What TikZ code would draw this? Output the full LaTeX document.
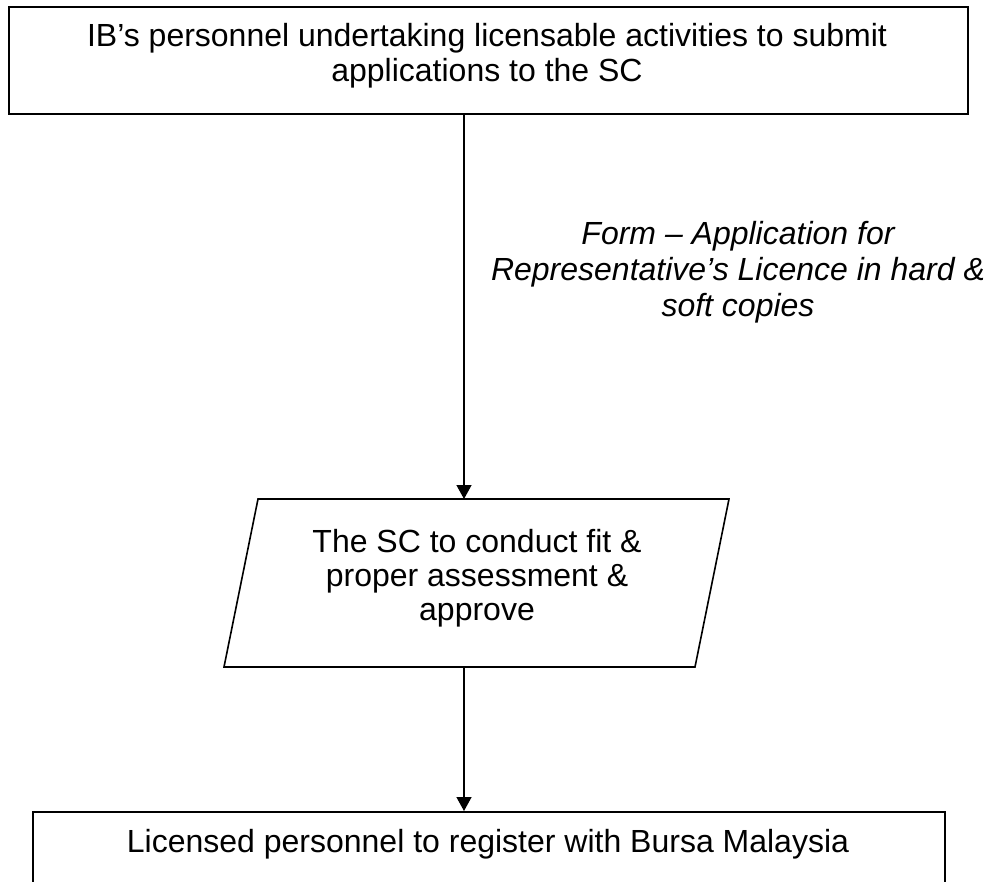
\documentclass[tikz,border=0pt]{standalone}
\usepackage{fontspec}
\setmainfont{Liberation Sans}
\usetikzlibrary{arrows.meta}
\begin{document}
\begin{tikzpicture}[x=1pt,y=-1pt,
  box/.style={draw, line width=1.6pt, inner sep=0pt},
  txt/.style={font=\fontsize{32}{35}\selectfont, align=center, inner sep=0pt},
  arr/.style={-{Triangle[length=14pt,width=15pt]}, line width=1.4pt}]
\useasboundingbox (0,0) rectangle (996,882);
% top box
\node[box, minimum width=959pt, minimum height=107pt, anchor=north west] (top) at (8,6) {};
\node[txt, anchor=base] (toptxt) at (487,82) {IB’s personnel undertaking licensable activities to submit\\applications to the SC};
% parallelogram
\coordinate (p1) at (258,499);
\coordinate (p2) at (729,499);
\coordinate (p3) at (695,667);
\coordinate (p4) at (224,667);
\draw[line width=1.6pt] (p1) -- (p2) -- (p3) -- (p4) -- cycle;
\node[txt, font=\fontsize{32}{34}\selectfont, anchor=base] (para) at (477,620) {The SC to conduct fit \&\\proper assessment \&\\approve};
\coordinate (pin) at (464,499);
\coordinate (pout) at (464,667);
% label
\node[txt, font=\fontsize{32}{36}\selectfont\itshape, anchor=base] (lbl) at (738,317) {Form – Application for\\Representative’s Licence in hard \&\\soft copies};
% bottom box
\node[box, minimum width=912pt, minimum height=120pt, anchor=north west] (bot) at (32,811) {};
\node[txt, anchor=base] (bottxt) at (488,852) {Licensed personnel to register with Bursa Malaysia};
% connectors
\draw[arr] (top.south -| pin) -- (pin);
\draw[arr] (pout) -- (bot.north -| pout);
\end{tikzpicture}
\end{document}
